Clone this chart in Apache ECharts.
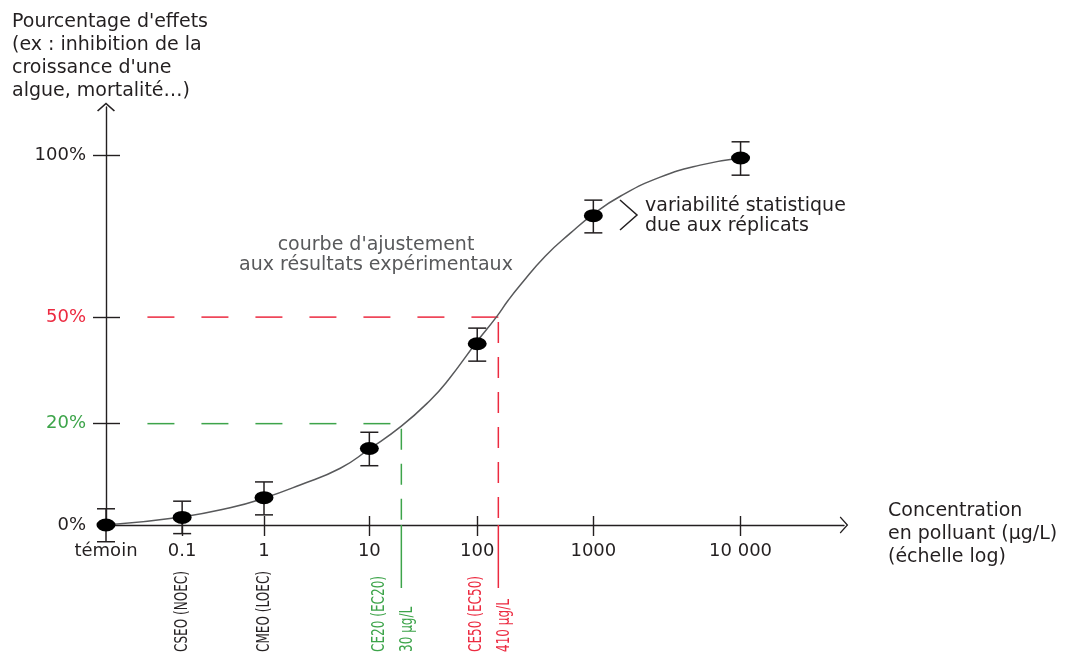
<!DOCTYPE html>
<html>
<head>
<meta charset="utf-8">
<title>Courbe dose-réponse</title>
<script src="https://cdn.jsdelivr.net/npm/echarts@6/dist/echarts.min.js"></script>
<style>body{margin:0;background:#fff;}</style>
</head>
<body>
<div id="main" style="width:1069px;height:655px;"></div>
<script type="text/javascript">
// axis scales: the original is hand drawn, decades and percent steps are not evenly spaced
var xTickConc = [0.01, 0.1, 1, 10, 100, 1000, 10000];   // témoin sits one decade below 0.1
var xTickLabels = ['témoin', '0.1', '1', '10', '100', '1000', '10 000'];
var xTickPos = [0, 12.0, 24.9, 41.5, 58.5, 76.8, 100];
var yTickPct = [0, 20, 50, 100];
var yTickLabels = ['0%', '20%', '50%', '100%'];
var yTickPos = [0, 27.4, 56.2, 100];

// measured effect (mean and replicate range, %)
var concentrations = [0.01, 0.1, 1, 10, 100, 1000, 10000];
var effectMean = [0, 1.5, 5.4, 15.1, 42.5, 81.3, 99.1];
var effectLow = [-3.3, -1.7, 2.0, 11.7, 37.6, 76.0, 93.8];
var effectHigh = [3.2, 4.7, 8.5, 18.3, 46.9, 86.1, 104.1];

// fitted curve
var curveConc = [0.01, 0.1, 0.385, 1, 2.2, 5.3, 10, 19.8, 36.7, 53.9, 100, 146, 185, 235, 385, 634, 1000, 1524, 2846, 5314, 10000];
var curvePct = [0, 1.6, 3.4, 5.3, 7.9, 11.2, 15.0, 19.5, 26.6, 32.3, 43.2, 50, 55.2, 59.9, 68.8, 75.9, 81.8, 87.3, 93.2, 96.9, 99.1];

// effect concentrations
var ceNames = ['CE20 (EC20)', 'CE50 (EC50)'];
var ceValues = ['30 µg/L', '410 µg/L'];
var ceLevels = [20, 50];
var ceConc = [19.8, 152];
var ceStart = 0.035;
var noecConc = [0.1, 1];
var noecNames = ['CSEO (NOEC)', 'CMEO (LOEC)'];

var dark = '#231f20';
var grey = '#58595b';
var green = '#3da44a';
var red = '#ec2a40';
var ceColors = [green, red];
var font = 'DejaVu Sans, sans-serif';

function interp(v, from, to) {
    var i = 1;
    while (i < from.length - 1 && v > from[i]) i++;
    return to[i - 1] + (v - from[i - 1]) / (from[i] - from[i - 1]) * (to[i] - to[i - 1]);
}
var xTickLog = xTickConc.map(function (c) { return Math.log10(c); });
function toX(c) { return interp(Math.log10(c), xTickLog, xTickPos); }
function toY(p) { return interp(p, yTickPct, yTickPos); }
function nearest(v, list) {
    var best = 0;
    for (var i = 1; i < list.length; i++) {
        if (Math.abs(list[i] - v) < Math.abs(list[best] - v)) best = i;
    }
    return best;
}

var xTickVals = xTickConc.map(toX);
var yTickVals = yTickPct.map(toY);
var yColors = [dark, green, red, dark];

// open chevron used for both axis ends
var chevron = 'path://M0,9 L10,0 L20,9 L18.7,10 L10,2.1 L1.3,10 Z';

var myChart = echarts.init(document.getElementById('main'));
var option = {
    animation: false,
    backgroundColor: '#fff',
    textStyle: { fontFamily: font },
    grid: { left: 106, right: 225, top: 107, bottom: 130 },
    xAxis: [{
        type: 'value', min: 0, max: 116.3,
        axisLine: { lineStyle: { color: dark, width: 1.4 }, symbol: ['none', chevron], symbolSize: [17, 8.5] },
        axisTick: { length: 11, lineStyle: { color: dark, width: 1.4 }, customValues: xTickVals.slice(1) },
        axisLabel: {
            customValues: xTickVals, margin: 17, fontSize: 18, color: dark, fontFamily: font,
            formatter: function (v) { return xTickLabels[nearest(v, xTickVals)]; }
        },
        splitLine: { show: false }
    }, {
        type: 'value', min: 0, max: 116.3, position: 'bottom',
        axisLine: { show: false },
        axisTick: { inside: true, length: 9, lineStyle: { color: dark, width: 1.4 }, customValues: xTickVals.slice(1) },
        axisLabel: { show: false },
        splitLine: { show: false }
    }],
    yAxis: [{
        type: 'value', min: 0, max: 113,
        axisLine: { lineStyle: { color: dark, width: 1.4 }, symbol: ['none', chevron], symbolSize: [21, 9] },
        axisTick: { length: 13, lineStyle: { color: dark, width: 1.4 }, customValues: yTickVals.slice(1) },
        axisLabel: {
            customValues: yTickVals, margin: 20, fontSize: 18, fontFamily: font,
            formatter: function (v) { return yTickLabels[nearest(v, yTickVals)]; },
            color: function (v) { return yColors[nearest(parseFloat(v), yTickVals)]; }
        },
        splitLine: { show: false }
    }, {
        type: 'value', min: 0, max: 113, position: 'left',
        axisLine: { show: false },
        axisTick: { inside: true, length: 14, lineStyle: { color: dark, width: 1.4 }, customValues: yTickVals.slice(1) },
        axisLabel: { show: false },
        splitLine: { show: false }
    }],
    graphic: [
        { type: 'text', left: 12, top: 11, style: { text: "Pourcentage d'effets\n(ex : inhibition de la\ncroissance d'une\nalgue, mortalité…)", fontSize: 19, fontFamily: font, lineHeight: 23, fill: dark } },
        { type: 'text', left: 888, top: 500, style: { text: 'Concentration\nen polluant (µg/L)\n(échelle log)', fontSize: 19, fontFamily: font, lineHeight: 23, fill: dark } },
        { type: 'text', x: 376, y: 235, style: { text: "courbe d'ajustement\naux résultats expérimentaux", align: 'center', fontSize: 19, fontFamily: font, lineHeight: 20, fill: grey } },
        { type: 'text', x: 645, y: 196, style: { text: 'variabilité statistique\ndue aux réplicats', fontSize: 19, fontFamily: font, lineHeight: 20, fill: dark } },
        { type: 'polyline', shape: { points: [[620, 200], [637, 215], [620, 230]] }, style: { stroke: dark, lineWidth: 1.5, fill: null } }
    ],
    series: [
        {
            // CE20 / CE50 guides
            type: 'custom', z: 1,
            data: ceConc.map(function (c, i) { return [toX(c), toY(ceLevels[i]), toX(ceStart)]; }),
            renderItem: function (params, api) {
                var i = params.dataIndex;
                var color = ceColors[i];
                var start = api.coord([api.value(2), api.value(1)]);
                var corner = api.coord([api.value(0), api.value(1)]);
                var foot = api.coord([api.value(0), 0]);
                return {
                    type: 'group', children: [
                        { type: 'line', shape: { x1: start[0], y1: start[1], x2: corner[0], y2: corner[1] }, style: { stroke: color, lineWidth: 1.5, lineDash: [27, 27] } },
                        { type: 'line', shape: { x1: corner[0], y1: corner[1] + 5, x2: foot[0], y2: foot[1] }, style: { stroke: color, lineWidth: 1.5, lineDash: [21, 14] } },
                        { type: 'line', shape: { x1: foot[0], y1: foot[1], x2: foot[0], y2: foot[1] + 63 }, style: { stroke: color, lineWidth: 1.5 } },
                        { type: 'text', x: foot[0] - 22, y: foot[1] + 127, rotation: Math.PI / 2, scaleX: 0.67, style: { text: ceNames[i], fill: color, fontSize: 18, fontFamily: font, align: 'left', verticalAlign: 'middle' } },
                        { type: 'text', x: foot[0] + 6, y: foot[1] + 127, rotation: Math.PI / 2, scaleX: 0.67, style: { text: ceValues[i], fill: color, fontSize: 18, fontFamily: font, align: 'left', verticalAlign: 'middle' } }
                    ]
                };
            }
        },
        {
            // NOEC / LOEC labels under the axis
            type: 'custom', z: 1,
            data: noecConc.map(function (c) { return [toX(c), 0]; }),
            renderItem: function (params, api) {
                var p = api.coord([api.value(0), 0]);
                return { type: 'text', x: p[0], y: p[1] + 127, rotation: Math.PI / 2, scaleX: 0.67, style: { text: noecNames[params.dataIndex], fill: dark, fontSize: 18, fontFamily: font, align: 'left', verticalAlign: 'middle' } };
            }
        },
        {
            type: 'line', z: 2,
            data: curveConc.map(function (c, i) { return [toX(c), toY(curvePct[i])]; }),
            showSymbol: false, smooth: 0.5,
            lineStyle: { color: grey, width: 1.5 }
        },
        {
            // replicate range
            type: 'custom', z: 3,
            data: concentrations.map(function (c, i) { return [toX(c), toY(effectLow[i]), toY(effectHigh[i])]; }),
            renderItem: function (params, api) {
                var lo = api.coord([api.value(0), api.value(1)]);
                var hi = api.coord([api.value(0), api.value(2)]);
                var s = { stroke: dark, lineWidth: 1.5 };
                return {
                    type: 'group', children: [
                        { type: 'line', shape: { x1: lo[0], y1: lo[1], x2: hi[0], y2: hi[1] }, style: s },
                        { type: 'line', shape: { x1: lo[0] - 9, y1: lo[1], x2: lo[0] + 9, y2: lo[1] }, style: s },
                        { type: 'line', shape: { x1: hi[0] - 9, y1: hi[1], x2: hi[0] + 9, y2: hi[1] }, style: s }
                    ]
                };
            }
        },
        {
            type: 'scatter', z: 4,
            data: concentrations.map(function (c, i) { return [toX(c), toY(effectMean[i])]; }),
            symbol: 'circle', symbolSize: [19, 13],
            itemStyle: { color: '#000', opacity: 1 }
        }
    ]
};
myChart.setOption(option);
</script>
</body>
</html>
